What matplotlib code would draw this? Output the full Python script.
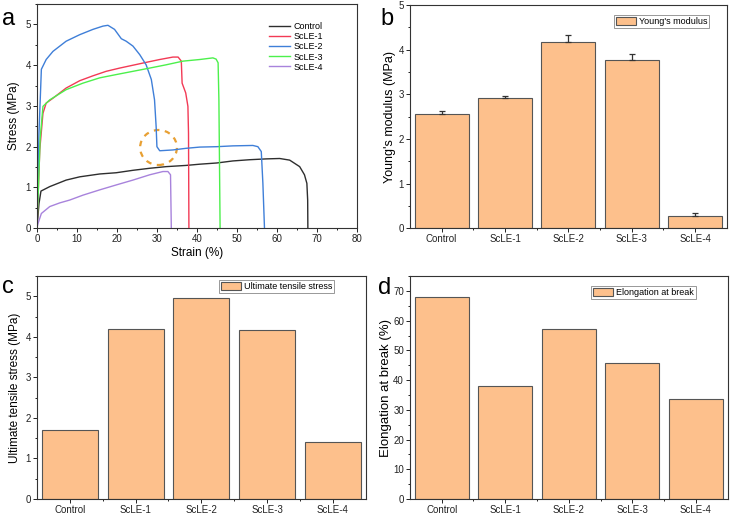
import matplotlib
matplotlib.use("Agg")
import matplotlib.pyplot as plt
from matplotlib.patches import Ellipse
from matplotlib.ticker import MultipleLocator

plt.rcParams['font.family'] = ['Liberation Sans', 'DejaVu Sans']

# ---------------- data ----------------
curve_names = ["Control", "ScLE-1", "ScLE-2", "ScLE-3", "ScLE-4"]
curve_colors = ["#2e2e2e", "#f23a55", "#3f7fd8", "#4cf04c", "#a883dc"]

control_strain = [0, 0.5, 1.0, 3.2, 7.3, 10.7, 15.7, 19.8, 24.0, 28.2, 32.3, 37.3, 40.7, 45.0, 49.0, 53.2, 57.3, 60.7, 63.2, 65.7, 66.9, 67.5, 67.7, 67.75]
control_stress = [0, 0.6, 0.91, 1.02, 1.18, 1.26, 1.33, 1.36, 1.42, 1.47, 1.51, 1.54, 1.57, 1.60, 1.65, 1.68, 1.70, 1.71, 1.67, 1.51, 1.31, 1.10, 0.69, 0]

scle1_strain = [0, 0.7, 1.5, 2.3, 4.0, 7.3, 10.7, 14.0, 17.3, 20.7, 24.0, 27.3, 30.7, 34.0, 35.3, 36.1, 36.3, 37.2, 37.75, 37.9, 38.0]
scle1_stress = [0, 1.92, 2.82, 3.07, 3.19, 3.44, 3.62, 3.74, 3.85, 3.93, 4.00, 4.07, 4.14, 4.20, 4.20, 4.10, 3.56, 3.32, 2.99, 2.33, 0]

scle2_strain = [0, 0.5, 1.1, 2.3, 4.0, 7.3, 10.7, 14.0, 16.5, 17.75, 19.4, 21.1, 22.3, 24.0, 25.7, 27.3, 28.6, 29.4, 29.8, 30.0, 30.7, 34.0, 37.3, 40.7, 45.0, 49.0, 54.0, 55.25, 56.1, 56.5, 56.9]
scle2_stress = [0, 2.33, 3.90, 4.14, 4.34, 4.59, 4.75, 4.88, 4.96, 4.98, 4.88, 4.65, 4.59, 4.47, 4.26, 4.01, 3.65, 3.15, 2.50, 2.00, 1.90, 1.92, 1.96, 1.99, 2.00, 2.02, 2.03, 2.00, 1.88, 1.10, 0]

scle3_strain = [0, 0.8, 1.5, 3.2, 7.3, 11.5, 15.7, 19.8, 24.0, 28.2, 32.3, 36.5, 40.7, 44.0, 44.8, 45.3, 45.5, 45.8]
scle3_stress = [0, 2.2, 2.99, 3.15, 3.40, 3.56, 3.69, 3.77, 3.85, 3.93, 4.01, 4.10, 4.14, 4.18, 4.15, 4.06, 3.15, 0]

scle4_strain = [0, 0.25, 1.1, 3.2, 5.7, 8.2, 11.5, 15.7, 19.8, 24.0, 28.2, 31.5, 32.75, 33.4, 33.6]
scle4_stress = [0, 0.11, 0.36, 0.53, 0.62, 0.69, 0.81, 0.94, 1.06, 1.18, 1.31, 1.39, 1.39, 1.31, 0]

categories = ["Control", "ScLE-1", "ScLE-2", "ScLE-3", "ScLE-4"]
youngs_modulus = [2.55, 2.92, 4.17, 3.76, 0.27]
youngs_err = [0.07, 0.05, 0.15, 0.14, 0.08]
uts = [1.71, 4.20, 4.96, 4.17, 1.40]
elongation = [67.8, 37.9, 57.1, 45.9, 33.5]

bar_color = "#fdc08c"
edge_color = "#555555"
spine_color = "#333333"

fig = plt.figure(figsize=(7.32, 5.15), dpi=100)

def style_axes(ax):
    for s in ax.spines.values():
        s.set_color(spine_color)
        s.set_linewidth(0.8)
    ax.tick_params(which='both', direction='out', top=False, right=False,
                   labelsize=7, colors='#222222', width=0.7, pad=1.5)
    ax.tick_params(which='major', length=2.8)
    ax.tick_params(which='minor', length=1.6)

# ---------------- panel a ----------------
axa = fig.add_axes([0.0505, 0.557, 0.437, 0.435])
curves = [(control_strain, control_stress), (scle1_strain, scle1_stress),
          (scle2_strain, scle2_stress), (scle3_strain, scle3_stress),
          (scle4_strain, scle4_stress)]
for (xs, ys), name, col in zip(curves, curve_names, curve_colors):
    axa.plot(xs, ys, color=col, lw=1.0, label=name)
axa.set_xlim(0, 80)
axa.set_ylim(0, 5.5)
axa.xaxis.set_major_locator(MultipleLocator(10))
axa.xaxis.set_minor_locator(MultipleLocator(5))
axa.yaxis.set_major_locator(MultipleLocator(1))
axa.yaxis.set_minor_locator(MultipleLocator(0.5))
style_axes(axa)
axa.set_xlabel("Strain (%)", fontsize=8.5, labelpad=2)
axa.set_ylabel("Stress (MPa)", fontsize=8.5, labelpad=4)
axa.add_patch(Ellipse((30.4, 1.98), 9.2, 0.86, fill=False, ls=(0, (2.5, 2.5)),
                      ec="#e8a033", lw=1.6))
axa.legend(loc='upper right', bbox_to_anchor=(0.905, 0.935), frameon=False, fontsize=6.5,
           handlelength=2.3, handletextpad=0.4, labelspacing=0.12, borderaxespad=0)
fig.text(0.003, 0.985, "a", fontsize=17, va='top', ha='left')

def bar_panel(rect, values, ylabel, ylabel_size, ylabel_pad, legend_label, legend_anchor,
              ylim, major, minor, letter, letter_pos, err=None):
    ax = fig.add_axes(rect)
    x = list(range(1, len(categories) + 1))
    ax.bar(x, values, width=0.85, color=bar_color, edgecolor=edge_color, lw=0.8,
           label=legend_label, zorder=2)
    if err is not None:
        ax.errorbar(x, values, yerr=[[0] * len(err), err], fmt='none', ecolor='#333333',
                    elinewidth=0.9, capsize=2.5, capthick=0.9, zorder=3)
    ax.set_xlim(0.5, len(categories) + 0.5)
    ax.set_ylim(*ylim)
    ax.set_xticks(x)
    ax.set_xticklabels(categories)
    ax.set_xticks([i + 0.5 for i in x[:-1]], minor=True)
    ax.yaxis.set_major_locator(MultipleLocator(major))
    ax.yaxis.set_minor_locator(MultipleLocator(minor))
    style_axes(ax)
    ax.set_ylabel(ylabel, fontsize=ylabel_size, labelpad=ylabel_pad)
    leg = ax.legend(loc='upper right', bbox_to_anchor=legend_anchor, fontsize=6.5,
                    fancybox=False, edgecolor='#888888', framealpha=1,
                    handlelength=2.2, handleheight=0.9, borderpad=0.2,
                    handletextpad=0.4, borderaxespad=0)
    leg.get_frame().set_linewidth(0.6)
    fig.text(letter_pos[0], letter_pos[1], letter, fontsize=17, va='top', ha='left')
    return ax

bar_panel([0.560, 0.557, 0.433, 0.433], youngs_modulus, "Young's modulus (MPa)", 9.0, 2.0,
          "Young's modulus", (0.945, 0.955), (0, 5), 1, 0.5, "b", (0.520, 0.985),
          err=youngs_err)
bar_panel([0.0505, 0.031, 0.449, 0.433], uts, "Ultimate tensile stress (MPa)", 8.5, 3.0,
          "Ultimate tensile stress", (0.905, 0.98), (0, 5.5), 1, 0.5, "c", (0.003, 0.465))
bar_panel([0.560, 0.031, 0.434, 0.433], elongation, "Elongation at break (%)", 9.5, 1.0,
          "Elongation at break", (0.90, 0.955), (0, 75), 10, 5, "d", (0.517, 0.462))

fig.savefig("out.png", dpi=100)
